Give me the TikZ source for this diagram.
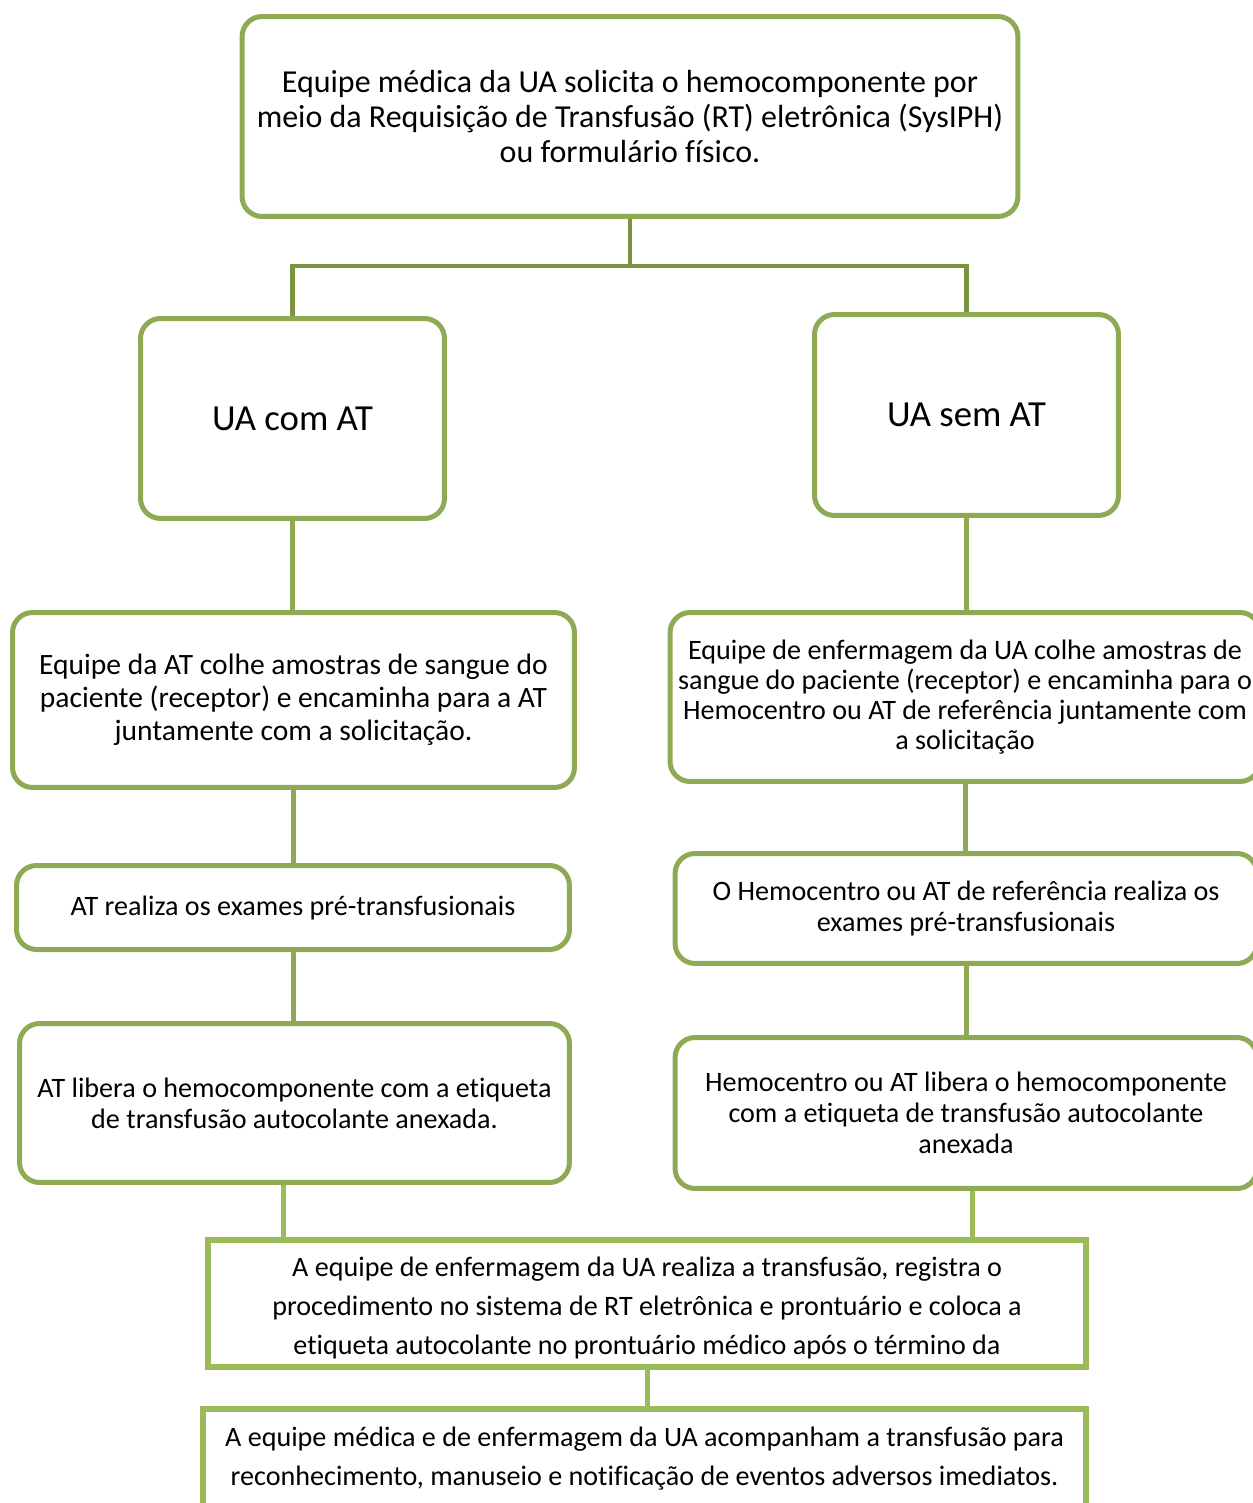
\documentclass[tikz,border=0pt]{standalone}
\usepackage{fontspec}
\setmainfont{Carlito}[Ligatures=NoCommon]
\definecolor{boxgreen}{RGB}{143,170,84}
\definecolor{sheetgreen}{RGB}{155,187,89}
\definecolor{linkgreen}{RGB}{122,148,66}
\usepackage{tikz}
\usetikzlibrary{positioning,calc}

\begin{document}
\begin{tikzpicture}[x=0.02cm,y=-0.02cm,
    stagebox/.style={draw=boxgreen,line width=0.1cm,rounded corners=0.4cm,
        align=center,inner sep=2pt,font=\fontsize{16}{17.6}\selectfont},
    sheetbox/.style={draw=sheetgreen,line width=0.13cm,inner sep=0pt},
    sheettext/.style={align=center,inner sep=0pt,font=\fontsize{16}{22.2}\selectfont},
    link/.style={draw=boxgreen,line width=0.1cm},
    toplink/.style={draw=linkgreen,line width=0.09cm}]
                \useasboundingbox (0,0) rectangle (1253,1503);
                \clip (0,0) rectangle (1253,1503);

                % Request
                \node[stagebox,minimum width=15.52cm,minimum height=4cm,
                    font=\fontsize{18.2}{20}\selectfont] (request) at (630,116.5)
                    {Equipe médica da UA solicita o hemocomponente por\\
                     meio da Requisição de Transfusão (RT) eletrônica (SysIPH)\\
                     ou formulário físico.};

                % Two branches
                \node[stagebox,minimum width=6.08cm,minimum height=4cm,
                    font=\fontsize{20.9}{24}\selectfont] (uacom) at (292.5,418.5) {UA com AT};
                \node[stagebox,minimum width=6.08cm,minimum height=4.02cm,
                    font=\fontsize{20.9}{24}\selectfont] (uasem) at (966.5,415) {UA sem AT};

                % Left column
                \node[stagebox,minimum width=11.24cm,minimum height=3.5cm,
                    font=\fontsize{16.8}{18.8}\selectfont] (colheAT) at (293.5,700)
                    {Equipe da AT colhe amostras de sangue do\\
                     paciente (receptor) e encaminha para a AT\\
                     juntamente com a solicitação.};
                \node[stagebox,minimum width=11.06cm,minimum height=1.68cm] (examAT) at (293,907.5)
                    {AT realiza os exames pré-transfusionais};
                \node[stagebox,minimum width=11cm,minimum height=3.18cm] (liberaAT) at (294.5,1103)
                    {AT libera o hemocomponente com a etiqueta\\
                     de transfusão autocolante anexada.};

                % Right column
                \node[stagebox,minimum width=11.8cm,minimum height=3.38cm,
                    font=\fontsize{16}{17}\selectfont] (colheUA) at (965,697)
                    {Equipe de enfermagem da UA colhe amostras de\\
                     sangue do paciente (receptor) e encaminha para o\\
                     Hemocentro ou AT de referência juntamente com\\
                     a solicitação};
                \node[stagebox,minimum width=11.64cm,minimum height=2.2cm] (examHemo) at (966,908.5)
                    {O Hemocentro ou AT de referência realiza os\\
                     exames pré-transfusionais};
                \node[stagebox,minimum width=11.64cm,minimum height=3.02cm] (liberaHemo) at (966,1113)
                    {Hemocentro ou AT libera o hemocomponente\\
                     com a etiqueta de transfusão autocolante\\
                     anexada};

                % Transfusion and follow-up
                \node[sheettext] (transfText) at (647,1308)
                    {A equipe de enfermagem da UA realiza a transfusão, registra o\\
                     procedimento no sistema de RT eletrônica e prontuário e coloca a\\
                     etiqueta autocolante no prontuário médico após o término da};
                \node[sheetbox,minimum width=17.56cm,minimum height=2.54cm] (transf) at (647,1303.5) {};
                \node[sheetbox,minimum width=17.66cm,minimum height=2.04cm] (acomp) at (644.5,1460) {};
                \node[sheettext] (acompText) at (644.5,1458.5)
                    {A equipe médica e de enfermagem da UA acompanham a transfusão para\\
                     reconhecimento, manuseio e notificação de eventos adversos imediatos.};

                % Connectors
                \coordinate (split) at (630,266);
                \draw[toplink] (request.south) -- (split);
                \draw[toplink] (split) -| (uacom.north);
                \draw[toplink] (split) -| (uasem.north);
                \draw[link] (uacom.south) -- (uacom.south |- colheAT.north);
                \draw[link] (colheAT.south) -- (colheAT.south |- examAT.north);
                \draw[link] (examAT.south) -- (examAT.south |- liberaAT.north);
                \draw[link] (uasem.south) -- (uasem.south |- colheUA.north);
                \draw[link] (colheUA.south) -- (colheUA.south |- examHemo.north);
                \draw[link] (examHemo.south) -- (examHemo.south |- liberaHemo.north);
                \coordinate (joinL) at (283,0);
                \coordinate (joinR) at (972,0);
                \draw[link,draw=sheetgreen] (joinL |- liberaAT.south) -- (joinL |- transf.north);
                \draw[link,draw=sheetgreen] (joinR |- liberaHemo.south) -- (joinR |- transf.north);
                \draw[link,draw=sheetgreen] (transf.south) -- (transf.south |- acomp.north);
            \end{tikzpicture}
\end{document}
